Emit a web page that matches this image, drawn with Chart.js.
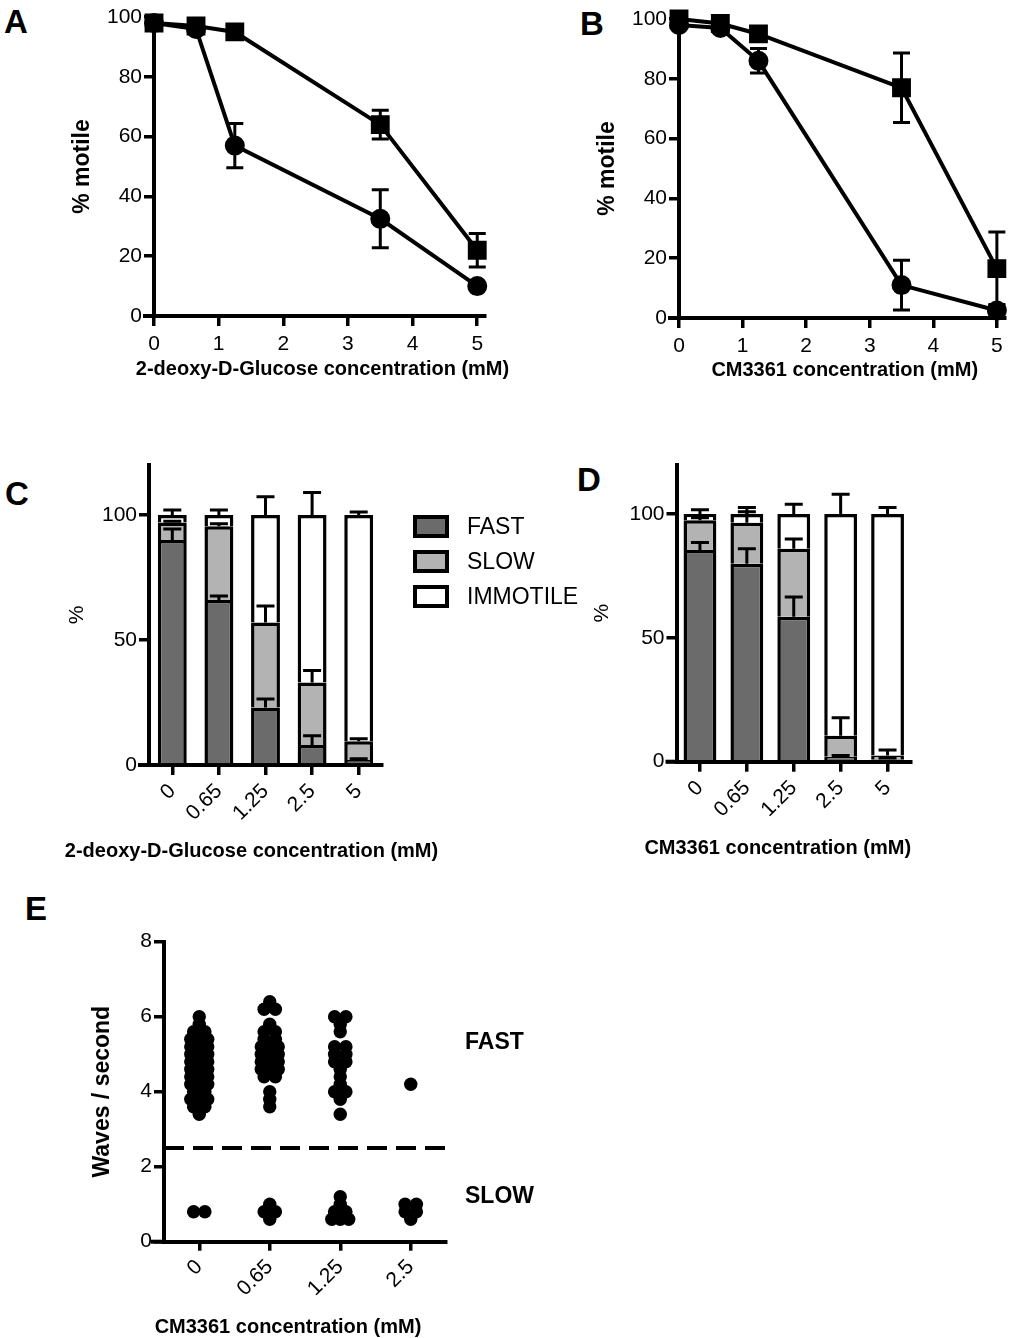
<!DOCTYPE html>
<html>
<head>
<meta charset="utf-8">
<script src="https://cdn.jsdelivr.net/npm/chart.js@4.4.1/dist/chart.umd.min.js"></script>
<style>
  body { margin: 0; width: 1019px; height: 1338px; position: relative; background: #fff; overflow: hidden;
         font-family: "Liberation Sans", Arial, sans-serif; }
  .tag { position: absolute; font-weight: bold; font-size: 33px; line-height: 1; }
  canvas { position: absolute; }
</style>
</head>
<body>
<div class="tag" style="left:4px;top:5px">A</div>
<div class="tag" style="left:580px;top:7px">B</div>
<div class="tag" style="left:5px;top:477px">C</div>
<div class="tag" style="left:577px;top:463px">D</div>
<div class="tag" style="left:25px;top:892px">E</div>
<script>
// dose response (A, B)
const LINE_CONC = [0, 0.65, 1.25, 3.5, 5];
const LINE_TICKS = [0, 1, 2, 3, 4, 5];
const PCT_TICKS = [0, 20, 40, 60, 80, 100];
const A_SQUARE = [98, 97, 95, 64, 22];
const A_SQUARE_ERR = [0, 0, 0, 4.8, 5.6];
const A_CIRCLE = [98, 96, 57, 32.5, 10];
const A_CIRCLE_ERR = [0, 0, 7.4, 9.7, 0];
const B_SQUARE = [100, 98.5, 95, 77, 16.5];
const B_SQUARE_ERR = [0, 0, 0, 11.6, 12.3];
const B_CIRCLE = [98, 97, 86, 11, 2.5];
const B_CIRCLE_ERR = [0, 0, 4.1, 8.3, 2];

// motility classes (C, D)
const BAR_CONC = ['0', '0.65', '1.25', '2.5', '5'];
const BAR_TICKS = [0, 50, 100];
const C_FAST = [90, 66, 23, 8, 2];
const C_SLOW = [7, 29.5, 34, 25, 7.5];
const C_IMMOTILE = [3, 4.5, 43, 67, 90.5];
const C_FAST_ERR = [4.4, 1.6, 3.4, 3.7, 0.5];
const C_SLOW_ERR = [0.5, 1, 6.6, 4.8, 1];
const C_IMMOTILE_ERR = [2, 2, 7.3, 9, 1.2];
const D_FAST = [85.5, 80, 58.5, 2, 1];
const D_SLOW = [12, 16.5, 27.5, 8.5, 1.5];
const D_IMMOTILE = [2.5, 3.5, 14, 89.5, 97.5];
const D_FAST_ERR = [3, 6, 8, 0.5, 0.5];
const D_SLOW_ERR = [1, 4.5, 4, 7.3, 2.2];
const D_IMMOTILE_ERR = [1.8, 2.7, 4, 8, 2.7];

// beat frequency (E), one value per sperm
const E_CONC = ['0', '0.65', '1.25', '2.5'];
const E_TICKS = [0, 2, 4, 6, 8];
const E_THRESHOLD = 2.5;
const E_0 = [6.0, 5.8, 5.6, 5.6, 5.4, 5.4, 5.4, 5.2, 5.2, 5.2, 5.2, 5.0, 5.0, 5.0, 5.0,
  4.8, 4.8, 4.8, 4.8, 4.8, 4.6, 4.6, 4.6, 4.6, 4.4, 4.4, 4.4, 4.2, 4.2, 4.2,
  4.0, 4.0, 3.8, 3.8, 3.8, 3.6, 3.6, 3.4, 0.8, 0.8];
const E_065 = [6.4, 6.2, 6.2, 5.8, 5.6, 5.6, 5.4, 5.4, 5.2, 5.2, 5.2, 5.0, 5.0, 5.0, 5.0,
  4.8, 4.8, 4.8, 4.6, 4.6, 4.6, 4.4, 4.4, 4.0, 3.8, 3.6, 1.0, 0.8, 0.8, 0.6];
const E_125 = [6.0, 6.0, 5.8, 5.6, 5.2, 5.2, 5.0, 5.0, 4.8, 4.8, 4.6, 4.4, 4.2, 4.0, 4.0,
  3.8, 3.4, 1.2, 1.0, 0.8, 0.8, 0.6, 0.6, 0.6];
const E_25 = [4.2, 1.0, 1.0, 0.8, 0.8, 0.6];

const FAST_COLOR = '#6b6b6b';
const SLOW_COLOR = '#b3b3b3';
const IMMOTILE_COLOR = '#ffffff';
const FONT = '"Liberation Sans", Arial, sans-serif';

Chart.defaults.font.family = FONT;
Chart.defaults.color = '#000';
Chart.defaults.animation = false;
Chart.defaults.plugins.legend.display = false;
Chart.defaults.plugins.tooltip.enabled = false;

// vertical error bars from dataset.errors
const errorBars = {
  id: 'errorBars',
  afterDatasetsDraw(chart, args, opts) {
    const ctx = chart.ctx;
    const ys = chart.scales.y;
    ctx.save();
    ctx.strokeStyle = '#000';
    ctx.lineWidth = opts.width || 3;
    chart.data.datasets.forEach((ds, di) => {
      if (!ds.errors) return;
      chart.getDatasetMeta(di).data.forEach((el, i) => {
        const err = ds.errors[i];
        if (!err) return;
        let v = 0;
        if (opts.stacked) {
          for (let k = 0; k <= di; k++) v += chart.data.datasets[k].data[i];
        } else {
          v = ds.data[i].y;
        }
        const top = ys.getPixelForValue(v + err);
        const bot = ys.getPixelForValue(opts.upOnly ? v : v - err);
        const half = opts.cap / 2;
        ctx.beginPath();
        ctx.moveTo(el.x, bot); ctx.lineTo(el.x, top);
        ctx.moveTo(el.x - half, top); ctx.lineTo(el.x + half, top);
        if (!opts.upOnly) { ctx.moveTo(el.x - half, bot); ctx.lineTo(el.x + half, bot); }
        ctx.stroke();
      });
    });
    ctx.restore();
  }
};

// x axis line running a little past the y axis, prism style
const axisStub = {
  id: 'axisStub',
  afterDraw(chart, args, opts) {
    const {ctx, chartArea: a} = chart;
    ctx.save();
    ctx.strokeStyle = '#000';
    ctx.lineWidth = 4;
    ctx.beginPath();
    ctx.moveTo(a.left - opts.left, a.bottom);
    ctx.lineTo(a.left, a.bottom);
    ctx.stroke();
    ctx.restore();
  }
};

// x axis caption, drawn at full width (chart.js would squeeze it to the plot width)
const caption = {
  id: 'caption',
  afterDraw(chart, args, opts) {
    const {ctx, chartArea: a} = chart;
    ctx.save();
    ctx.font = 'bold 20px ' + FONT;
    ctx.textAlign = 'center';
    ctx.textBaseline = 'alphabetic';
    ctx.fillStyle = '#000';
    ctx.fillText(opts.text, (a.left + a.right) / 2 + opts.dx, a.bottom + opts.dy);
    ctx.restore();
  }
};

// boxed legend to the right of the bars
const boxLegend = {
  id: 'boxLegend',
  afterDraw(chart, args, opts) {
    if (!opts.show) return;
    const {ctx, chartArea: a} = chart;
    ctx.save();
    ctx.font = '23px ' + FONT;
    ctx.textBaseline = 'middle';
    chart.data.datasets.forEach((ds, i) => {
      const x = a.right + opts.dx;
      const y = a.top + opts.dy + i * opts.gap;
      ctx.fillStyle = '#000';
      ctx.fillRect(x, y, opts.w, opts.h);
      ctx.fillStyle = ds.backgroundColor;
      ctx.fillRect(x + 4, y + 4, opts.w - 8, opts.h - 8);
      ctx.fillStyle = '#000';
      ctx.fillText(ds.label, x + opts.w + 18, y + opts.h / 2 + 1);
    });
    ctx.restore();
  }
};

// FAST / SLOW labels beside the dot plot
const sideLabels = {
  id: 'sideLabels',
  afterDraw(chart, args, opts) {
    if (!opts.items) return;
    const {ctx, chartArea: a} = chart;
    ctx.save();
    ctx.font = 'bold 23px ' + FONT;
    ctx.textBaseline = 'middle';
    ctx.fillStyle = '#000';
    opts.items.forEach(it => ctx.fillText(it.text, a.right + opts.dx, chart.scales.y.getPixelForValue(it.value)));
    ctx.restore();
  }
};

function geometry(box, plot, yTitle, xHeight) {
  const padL = yTitle.x - box.x - yTitle.size * 0.6;
  return {
    padding: {left: padL, top: plot.t - box.y, right: box.x + box.w - plot.r,
              bottom: box.y + box.h - plot.b - xHeight},
    yWidth: plot.l - box.x - padL,
    xHeight
  };
}

function makeCanvas(box) {
  const c = document.createElement('canvas');
  c.width = box.w;
  c.height = box.h;
  c.style.cssText = `left:${box.x}px;top:${box.y}px;width:${box.w}px;height:${box.h}px`;
  document.body.appendChild(c);
  return c;
}

const AXIS_BORDER = {color: '#000', width: 4};

function yAxis(g, ticks, max, title, titleFont) {
  return {
    type: 'linear', min: 0, max,
    afterFit: s => { s.width = g.yWidth; },
    afterBuildTicks: s => { s.ticks = ticks.map(v => ({value: v})); },
    border: AXIS_BORDER,
    grid: {drawOnChartArea: false, color: '#000', lineWidth: 3.5, tickLength: 10},
    ticks: {color: '#000', font: {size: 21}, padding: 2},
    title: {display: true, text: title, color: '#000', font: titleFont, padding: 0}
  };
}

function lineChart(box, plot, yT, squares, squareErr, circles, circleErr, title, capDy) {
  const g = geometry(box, plot, {x: yT, size: 23}, 60);
  const pts = vals => LINE_CONC.map((x, i) => ({x, y: vals[i]}));
  const common = {borderColor: '#000', backgroundColor: '#000', borderWidth: 4, clip: false, tension: 0};
  new Chart(makeCanvas(box), {
    type: 'line',
    data: {datasets: [
      {...common, data: pts(squares), errors: squareErr, pointStyle: 'rect', pointRadius: 10.5},
      {...common, data: pts(circles), errors: circleErr, pointStyle: 'circle', pointRadius: 8}
    ]},
    options: {
      responsive: false,
      layout: {padding: g.padding},
      scales: {
        x: {
          type: 'linear', min: 0, max: 5.12,
          afterFit: s => { s.height = g.xHeight; },
          afterBuildTicks: s => { s.ticks = LINE_TICKS.map(v => ({value: v})); },
          border: AXIS_BORDER,
          grid: {drawOnChartArea: false, color: '#000', lineWidth: 3.5, tickLength: 10},
          ticks: {color: '#000', font: {size: 21}, padding: 6, maxRotation: 0}
        },
        y: yAxis(g, PCT_TICKS, 100, '% motile', {size: 23, weight: 'bold'})
      },
      plugins: {
        errorBars: {cap: 17, width: 3},
        axisStub: {left: 11},
        caption: {text: title, dx: 3, dy: capDy}
      }
    },
    plugins: [errorBars, axisStub, caption]
  });
}

function barChart(box, plot, yT, fast, slow, immotile, errs, title, capDx, legend) {
  const g = geometry(box, plot, {x: yT, size: 21}, 80);
  const common = {borderColor: '#000', borderWidth: 3.5, categoryPercentage: 1, barPercentage: legend ? 0.62 : 0.7};
  const y = yAxis(g, BAR_TICKS, 120, '%', {size: 21});
  y.stacked = true;
  new Chart(makeCanvas(box), {
    type: 'bar',
    data: {
      labels: BAR_CONC,
      datasets: [
        {...common, label: 'FAST', data: fast, errors: errs[0], backgroundColor: FAST_COLOR},
        {...common, label: 'SLOW', data: slow, errors: errs[1], backgroundColor: SLOW_COLOR},
        {...common, label: 'IMMOTILE', data: immotile, errors: errs[2], backgroundColor: IMMOTILE_COLOR}
      ]
    },
    options: {
      responsive: false,
      layout: {padding: g.padding},
      scales: {
        x: {
          stacked: true,
          afterFit: s => { s.height = g.xHeight; },
          border: AXIS_BORDER,
          grid: {drawOnChartArea: false, offset: false, color: '#000', lineWidth: 3.5, tickLength: 10},
          ticks: {color: '#000', font: {size: 21}, padding: 4, minRotation: 45, maxRotation: 45, autoSkip: false}
        },
        y
      },
      plugins: {
        errorBars: {cap: 18, width: 3, stacked: true, upOnly: true},
        axisStub: {left: 11},
        caption: {text: title, dx: capDx, dy: 92},
        boxLegend: {show: legend, dx: 31, dy: 50, gap: 35, w: 36, h: 23}
      }
    },
    plugins: [errorBars, axisStub, caption, boxLegend]
  });
}

// spread equal values sideways around the category centre
function swarm(values, centre) {
  const counts = {}, seen = {};
  values.forEach(v => { counts[v] = (counts[v] || 0) + 1; });
  return values.map(v => {
    const n = counts[v];
    const k = seen[v] = (seen[v] || 0) + 1;
    const step = n > 1 ? Math.min(0.16, 0.24 / (n - 1)) : 0;
    return {x: centre + (k - 1 - (n - 1) / 2) * step, y: v};
  });
}

lineChart({x: 0, y: 0, w: 540, h: 400}, {l: 154, t: 17, r: 485, b: 316}, 83,
  A_SQUARE, A_SQUARE_ERR, A_CIRCLE, A_CIRCLE_ERR, '2-deoxy-D-Glucose concentration (mM)', 59);
lineChart({x: 505, y: 0, w: 514, h: 400}, {l: 679, t: 19, r: 1009, b: 318}, 608,
  B_SQUARE, B_SQUARE_ERR, B_CIRCLE, B_CIRCLE_ERR, 'CM3361 concentration (mM)', 58);

barChart({x: 0, y: 450, w: 580, h: 420}, {l: 149, t: 465, r: 382, b: 765}, 77,
  C_FAST, C_SLOW, C_IMMOTILE, [C_FAST_ERR, C_SLOW_ERR, C_IMMOTILE_ERR],
  '2-deoxy-D-Glucose concentration (mM)', -14, true);
barChart({x: 580, y: 450, w: 439, h: 420}, {l: 676.5, t: 461.7, r: 911, b: 761.7}, 602,
  D_FAST, D_SLOW, D_IMMOTILE, [D_FAST_ERR, D_SLOW_ERR, D_IMMOTILE_ERR],
  'CM3361 concentration (mM)', -16, false);

// panel E
(function () {
  const box = {x: 0, y: 890, w: 560, h: 448};
  const g = geometry(box, {l: 164, t: 941.7, r: 446, b: 1241.7}, {x: 103, size: 23}, 80);
  const groups = [E_0, E_065, E_125, E_25];
  const dots = {
    type: 'scatter',
    data: [].concat(...groups.map((vals, i) => swarm(vals, i))),
    backgroundColor: '#000', borderColor: '#000', pointRadius: 6.7, borderWidth: 0, clip: false
  };
  const cut = {
    type: 'line',
    data: [{x: -0.5, y: E_THRESHOLD}, {x: 3.58, y: E_THRESHOLD}],
    borderColor: '#000', borderWidth: 4, borderDash: [20, 9], pointRadius: 0, clip: false
  };
  new Chart(makeCanvas(box), {
    type: 'scatter',
    data: {datasets: [dots, cut]},
    options: {
      responsive: false,
      layout: {padding: g.padding},
      scales: {
        x: {
          type: 'linear', min: -0.5, max: 3.5,
          afterFit: s => { s.height = g.xHeight; },
          afterBuildTicks: s => { s.ticks = E_CONC.map((c, i) => ({value: i})); },
          border: AXIS_BORDER,
          grid: {drawOnChartArea: false, color: '#000', lineWidth: 3.5, tickLength: 9},
          ticks: {color: '#000', font: {size: 21}, padding: 4, minRotation: 45, maxRotation: 45,
                  callback: v => E_CONC[v]}
        },
        y: yAxis(g, E_TICKS, 8, 'Waves / second', {size: 23, weight: 'bold'})
      },
      plugins: {
        axisStub: {left: 13},
        caption: {text: 'CM3361 concentration (mM)', dx: -17, dy: 91},
        sideLabels: {dx: 19, items: [{text: 'FAST', value: 5.3}, {text: 'SLOW', value: 1.2}]}
      }
    },
    plugins: [axisStub, caption, sideLabels]
  });
})();
</script>
</body>
</html>
